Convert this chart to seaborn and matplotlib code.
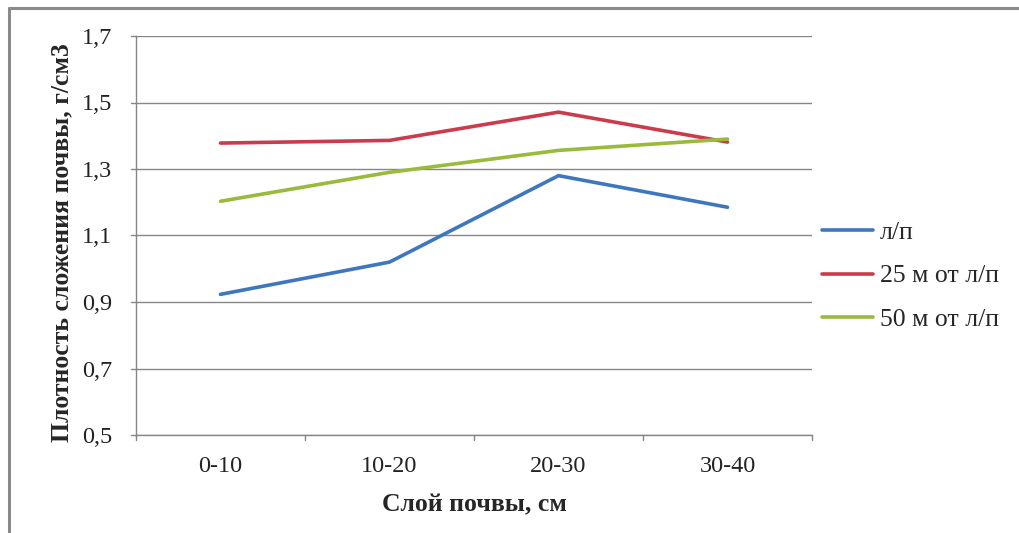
import matplotlib
matplotlib.use("Agg")
import matplotlib.pyplot as plt
from matplotlib.lines import Line2D
import seaborn as sns
import pandas as pd

# Soil layers and bulk density readings, g/cm3
layers = ["0-10", "10-20", "20-30", "30-40"]
series_names = ["л/п", "25 м от л/п", "50 м от л/п"]
density_lp = [0.923, 1.020, 1.280, 1.185]
density_25m = [1.378, 1.386, 1.471, 1.381]
density_50m = [1.203, 1.290, 1.356, 1.390]
y_ticks = [0.5, 0.7, 0.9, 1.1, 1.3, 1.5, 1.7]

colors = ["#3E77BE", "#CC3A4C", "#9ABA3C"]

df = pd.DataFrame({
    "layer": layers * 3,
    "density": density_lp + density_25m + density_50m,
    "series": [s for s in series_names for _ in layers],
})

sns.set_theme(style="white")
plt.rcParams["font.family"] = ["Liberation Serif", "DejaVu Serif"]

fig = plt.figure(figsize=(10.19, 5.33), dpi=100)
ax = fig.add_axes([136 / 1019, 1 - 435 / 533, (812 - 136) / 1019, (435 - 36) / 533])

sns.lineplot(data=df, x="layer", y="density", hue="series",
             hue_order=series_names, palette=colors, linewidth=2.6,
             sort=False, legend=False, ax=ax)

ax.set_xlim(-0.5, len(layers) - 0.5)
ax.set_ylim(0.5, 1.7)
ax.set_yticks(y_ticks)
ax.set_yticklabels([f"{v:.1f}".replace(".", ",") for v in y_ticks])
ax.set_xticks(range(len(layers)))
ax.set_xticklabels(layers)
ax.tick_params(axis="both", labelsize=17.5, colors="#222222", length=0)
ax.tick_params(axis="y", pad=17)
ax.tick_params(axis="x", pad=15)

# y ticks drawn to the left of the spine
for v in y_ticks:
    ax.plot([-0.53, -0.5], [v, v], color="#868686", lw=1, clip_on=False)
# category boundary ticks below the x axis
for b in [i - 0.5 for i in range(len(layers) + 1)]:
    ax.plot([b, b], [0.5, 0.485], color="#868686", lw=1, clip_on=False)

ax.grid(axis="y", color="#868686", lw=1)
ax.set_axisbelow(True)
for side in ["top", "right"]:
    ax.spines[side].set_visible(False)
for side in ["left", "bottom"]:
    ax.spines[side].set_color("#868686")
    ax.spines[side].set_linewidth(1)

ax.set_xlabel("Слой почвы, см", fontsize=18.5, fontweight="bold", labelpad=12)
ax.set_ylabel("Плотность сложения почвы, г/см3", fontsize=18.5, fontweight="bold")
ax.yaxis.set_label_coords(-0.093, 0.482)

handles = [Line2D([], [], color=c, lw=2.6) for c in colors]
fig.legend(handles, series_names, loc="center left",
           bbox_to_anchor=(822 / 1019, 1 - 276 / 533), frameon=False,
           borderpad=0, borderaxespad=0,
           fontsize=18.5, handlelength=2.0, handletextpad=0.25, labelspacing=0.8)

# outer chart border
fig.add_artist(Line2D([9 / 1019, 1.0], [1 - 8 / 533, 1 - 8 / 533], color="#8a8a8a", lw=2.2))
fig.add_artist(Line2D([9 / 1019, 9 / 1019], [0.0, 1 - 8 / 533], color="#8a8a8a", lw=2.2))

fig.savefig("out.png", dpi=100)
